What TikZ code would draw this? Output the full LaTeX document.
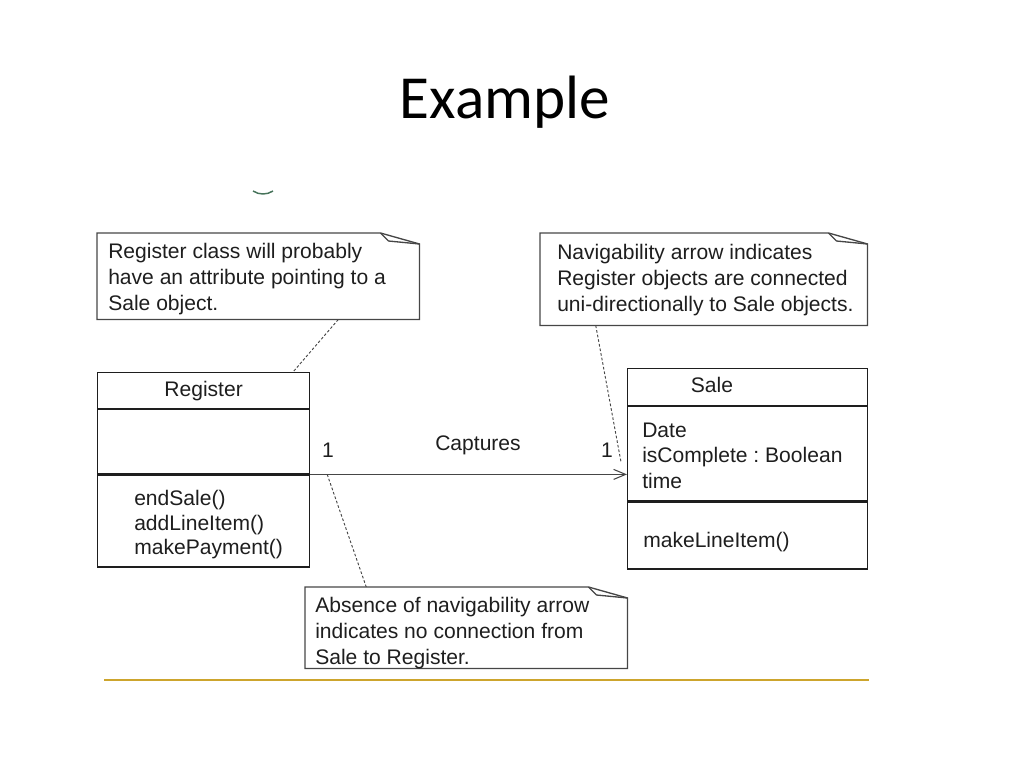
\documentclass[tikz,border=0pt]{standalone}
\usepackage{fontspec}
\setmainfont{Liberation Sans}
\newfontfamily\titlefont{Carlito}
\usetikzlibrary{arrows.meta,calc}
\frenchspacing
\definecolor{inkc}{RGB}{30,30,30}
\definecolor{notec}{RGB}{70,70,70}
\definecolor{goldline}{RGB}{205,165,45}
\definecolor{arcgreen}{RGB}{70,115,90}
\newcommand{\notedraw}[1]{%
  \draw[noteline] (#1.north west) -- ($(#1.north east)+(-39,0)$) -- ($(#1.north east)+(0,11)$) -- (#1.south east) -- (#1.south west) -- cycle;
  \draw[noteline] ($(#1.north east)+(-39,0)$) -- ($(#1.north east)+(-31,8)$) -- ($(#1.north east)+(0,11)$);}
\begin{document}
\begin{tikzpicture}[x=0.75pt,y=-0.75pt,
  txt/.style={font=\fontsize{15.8}{19.5}\selectfont, inner sep=0pt, text=inkc},
  notebox/.style={draw=none, inner sep=0pt, anchor=north west},
  noteline/.style={draw=notec, line width=1pt, line join=miter},
  regpart/.style={draw=inkc, line width=0.9pt, minimum width=159pt, inner sep=0pt, anchor=north, txt},
  salepart/.style={draw=inkc, line width=0.9pt, minimum width=180pt, inner sep=0pt, anchor=north, txt},
  assoc/.style={draw=notec, line width=0.8pt, -{Straight Barb[length=9pt,width=7.5pt,line width=0.8pt]}},
  dashline/.style={draw=notec, line width=0.7pt, dash pattern=on 2pt off 1.5pt}]
\useasboundingbox (0,0) rectangle (1024,768);

% title
\node[font=\titlefont\fontsize{45.9}{50}\selectfont, anchor=base, inner sep=0pt] (title) at (505,118) {Example};

% small arc
\draw[arcgreen, line width=1.1pt] (253,191) .. controls (259,195) and (267,195) .. (273,191);

% notes
\node[notebox, minimum width=241.5pt, minimum height=64.5pt] (n1) at (97,233) {};
\notedraw{n1}
\node[txt, anchor=west, align=left] (n1t) at ($(n1.west)+(11,3)$) {Register class will probably\\have an attribute pointing to a\\Sale object.};

\node[notebox, minimum width=245.25pt, minimum height=69pt] (n2) at (540,233) {};
\notedraw{n2}
\node[txt, anchor=west, align=left] (n2t) at ($(n2.west)+(17,1)$) {Navigability arrow indicates\\Register objects are connected\\uni-directionally to Sale objects.};

\node[notebox, minimum width=241.5pt, minimum height=60.75pt] (n3) at (305,587) {};
\notedraw{n3}
\node[txt, anchor=west, align=left] (n3t) at ($(n3.west)+(10,5)$) {Absence of navigability arrow\\indicates no connection from\\Sale to Register.};

% Register class
\node[regpart, minimum height=27pt, anchor=north west] (regT) at (97,372) {Register};
\node[regpart, minimum height=48pt] (regA) at (regT.south) {};
\node[regpart, minimum height=69pt] (regM) at (regA.south) {};
\node[txt, anchor=west, align=left, font=\fontsize{15.8}{18.4}\selectfont] (regOps) at ($(regM.west)+(37,4)$) {endSale()\\addLineItem()\\makePayment()};

% Sale class
\node[salepart, minimum height=27.75pt, anchor=north west] (saleT) at (627,368) {};
\node[txt] (saleName) at (712,385) {Sale};
\node[salepart, minimum height=70.5pt] (saleA) at (saleT.south) {};
\node[txt, anchor=west, align=left, font=\fontsize{15.8}{19.1}\selectfont] (saleAt) at ($(saleA.west)+(15,2)$) {Date\\isComplete : Boolean\\time};
\node[salepart, minimum height=50.25pt] (saleM) at (saleA.south) {};
\node[txt, anchor=west] (saleOp) at ($(saleM.west)+(16,7)$) {makeLineItem()};

% association
\draw[assoc] (regA.south east) -- (regA.south east -| saleA.west);
\node[txt] (m1) at (328,450) {1};
\node[txt] (cap) at (478,445) {Captures};
\node[txt] (m2) at (607,450) {1};

% dashed anchors
\draw[dashline] ($(n1.south)+(80,0)$) -- ($(regT.north west)+(196,0)$);
\coordinate (c2) at (621,462);
\draw[dashline] ($(n2.south)+(-108,0)$) -- (c2);
\coordinate (c3) at ($(regA.south east)+(17,0)$);
\draw[dashline] (c3) -- ($(n3.north)+(-100,0)$);

% bottom rule
\draw[goldline, line width=1.1pt] (104,680) -- (869,680);
\end{tikzpicture}
\end{document}
